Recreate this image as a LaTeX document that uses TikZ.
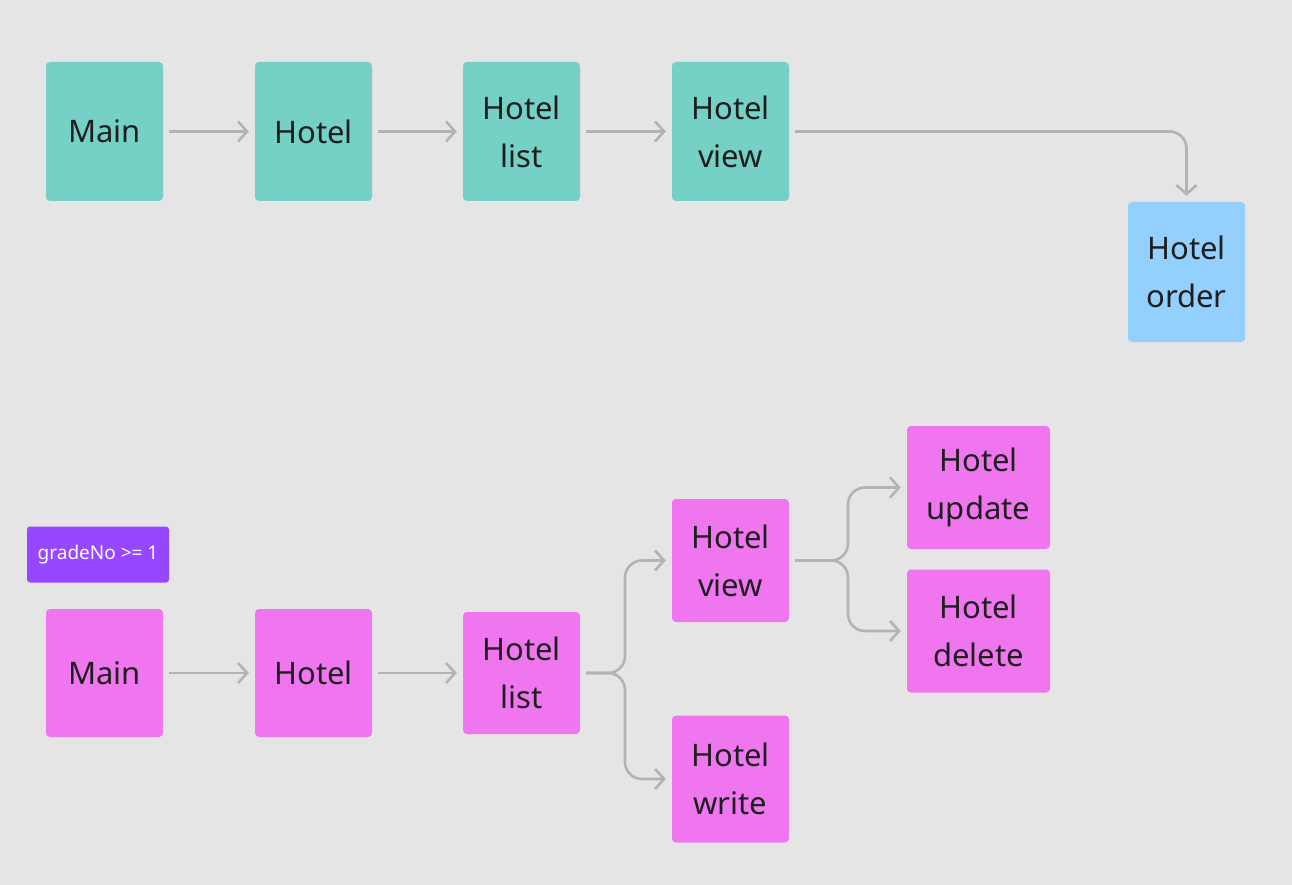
\documentclass[tikz,border=0pt]{standalone}
\usepackage{fontspec}
\setmainfont{Noto Sans}
\usetikzlibrary{arrows.meta}
\definecolor{bg}{HTML}{E5E5E5}
\definecolor{teal}{HTML}{75D1C5}
\definecolor{pinkb}{HTML}{EF76EE}
\definecolor{blueb}{HTML}{94D0FE}
\definecolor{purp}{HTML}{9747FF}
\definecolor{arrg}{HTML}{B3B3B3}
\definecolor{txt}{HTML}{1E1E1E}
\begin{document}
\begin{tikzpicture}[x=1pt,y=-1pt,
  card/.style={rounded corners=4pt, inner sep=0pt, minimum width=117pt, align=center,
    text=txt, font=\fontsize{31}{48}\selectfont},
  tealc/.style={card, fill=teal, minimum height=139pt},
  pinkc/.style={card, fill=pinkb},
  bluec/.style={card, fill=blueb, minimum height=140pt},
  tag/.style={rounded corners=3pt, fill=purp, text=white, inner sep=0pt,
    minimum width=142pt, minimum height=56pt, font=\fontsize{19}{22}\selectfont},
  arr/.style={draw=arrg, line width=2.6pt, -{Straight Barb[length=9pt,width=20pt,line width=2.6pt]},
    shorten <=6pt, shorten >=6pt, rounded corners=17pt}]
\useasboundingbox (0,0) rectangle (1292,885);
\fill[bg] (0,0) rectangle (1292,885);
% top row
\node[tealc] (tm) at (104.5,131.5) {Main};
\node[tealc] (th) at (313.5,131.5) {Hotel};
\node[tealc] (tl) at (521.5,131.5) {Hotel\\list};
\node[tealc] (tv) at (730.5,131.5) {Hotel\\view};
\node[bluec] (to) at (1186.5,272) {Hotel\\order};
\draw[arr] (tm) -- (th);
\draw[arr] (th) -- (tl);
\draw[arr] (tl) -- (tv);
\draw[arr] (tv.east) -- (tv.east -| to.north) -- (to.north);
% bottom
\node[tag] (g) at (98,554.5) {gradeNo >= 1};
\node[pinkc, minimum height=128pt] (bm) at (104.5,673) {Main};
\node[pinkc, minimum height=128pt] (bh) at (313.5,673) {Hotel};
\node[pinkc, minimum height=122pt] (bl) at (521.5,673) {Hotel\\list};
\node[pinkc, minimum height=123pt] (bv) at (730.5,560.5) {Hotel\\view};
\node[pinkc, minimum height=127pt] (bw) at (730.5,779) {Hotel\\write};
\node[pinkc, minimum width=143pt, minimum height=123pt] (bu) at (978.5,487.5) {Hotel\\update};
\node[pinkc, minimum width=143pt, minimum height=123pt] (bd) at (978.5,631) {Hotel\\delete};
\coordinate (j1) at (625,0);
\coordinate (j2) at (848,0);
\draw[arr] (bm) -- (bh);
\draw[arr] (bh) -- (bl);
\draw[arr] (bl.east) -- (j1 |- bl.east) -- (j1 |- bv.west) -- (bv.west);
\draw[arr] (bl.east) -- (j1 |- bl.east) -- (j1 |- bw.west) -- (bw.west);
\draw[arr] (bv.east) -- (j2 |- bv.east) -- (j2 |- bu.west) -- (bu.west);
\draw[arr] (bv.east) -- (j2 |- bv.east) -- (j2 |- bd.west) -- (bd.west);
\end{tikzpicture}
\end{document}
